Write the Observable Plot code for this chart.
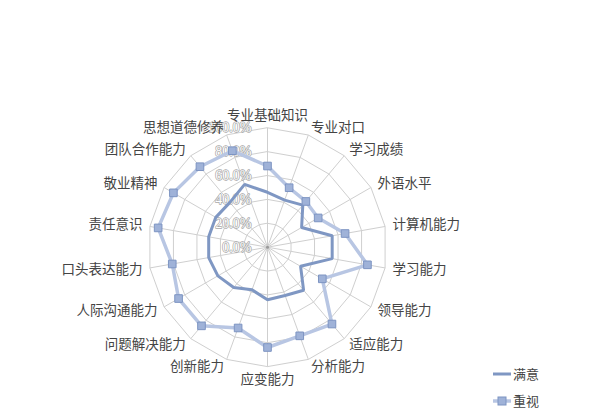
<!DOCTYPE html>
<html>
<head>
<meta charset="utf-8">
<script src="https://cdn.jsdelivr.net/npm/d3@7"></script>
<script src="https://cdn.jsdelivr.net/npm/@observablehq/plot@0.6"></script>
<style>
  html, body { margin: 0; padding: 0; background: #fff; }
  #wrap { position: relative; width: 600px; height: 413px; overflow: hidden; }
  .legend { position: absolute; left: 492px; font-family: "Noto Sans CJK SC", sans-serif; font-size: 13px; color: #444; }
  .legend .row { position: absolute; left: 0; width: 110px; height: 20px; }
  .legend svg { position: absolute; left: 0; top: 0; }
  .legend span { position: absolute; left: 21px; top: 0; line-height: 20px; white-space: nowrap; }
</style>
</head>
<body>
<div id="wrap"></div>
<script>
const categories = ["专业基础知识","专业对口","学习成绩","外语水平","计算机能力","学习能力","领导能力","适应能力","分析能力","应变能力","创新能力","问题解决能力","人际沟通能力","口头表达能力","责任意识","敬业精神","团队合作能力","思想道德修养"];
const manyi = [46,42,46,33,55,55,32,47,43,44,38,44,48,50,50,50,49,56];
const zhongshi = [68,53,50,49,66,85,53,84,79,84,72,86,86,81,93,91,88,86];
const ringTicks = [0,20,40,60,80,100];
const ringLabels = ["0.0%","20.0%","40.0%","60.0%","80.0%","100.0%"];
const seriesNames = ["满意","重视"];

const W = 600, H = 413, cx = 267, cy = 246.7, Rpx = 119.4;
const k = 100 / Rpx;
const n = categories.length;
const ang = i => (i * 2 * Math.PI) / n;
const px = (v, i) => v * Math.sin(ang(i));
const py = (v, i) => v * Math.cos(ang(i));

const rows = categories.map((c, i) => ({c, i, m: manyi[i], z: zhongshi[i]}));
const grid = ringTicks.filter(t => t > 0).flatMap(t => categories.map((c, i) => ({t, i})));
const labR = 127 * k;
const sideOf = i => { const s = Math.sin(ang(i)); return Math.abs(s) < 0.1 ? (Math.cos(ang(i)) > 0 ? "top" : "bottom") : (s > 0 ? "right" : "left"); };

const font = '"Noto Sans CJK SC", sans-serif';
const lab = (side, opts) => Plot.text(rows.filter(d => sideOf(d.i) === side), {
  x: d => px(labR, d.i), y: d => py(labR, d.i), text: "c",
  fill: "#444", fontSize: 13.5, fontFamily: font, ...opts
});

const chart = Plot.plot({
  width: W, height: H, margin: 0,
  x: {domain: [-cx * k, (W - cx) * k], range: [0, W], axis: null},
  y: {domain: [-(H - cy) * k, cy * k], range: [H, 0], axis: null},
  style: {background: "#fff", overflow: "visible"},
  marks: [
    Plot.line(grid, {x: d => px(d.t, d.i), y: d => py(d.t, d.i), z: "t", curve: "linear-closed", stroke: "#cfcfcf", strokeWidth: 1}),
    Plot.link(rows, {x1: 0, y1: 0, x2: d => px(100, d.i), y2: d => py(100, d.i), stroke: "#cfcfcf", strokeWidth: 1}),
    Plot.dot([0], {x: 0, y: 0, r: 1.5, fill: "#999"}),
    Plot.text(ringTicks, {x: -16 * k, y: d => d, text: (d, j) => ringLabels[j], textAnchor: "end",
      fill: "#fff", stroke: "#a8a8a8", strokeWidth: 1.4, fontSize: 14, fontFamily: '"Liberation Serif", serif'}),
    Plot.line(rows, {x: d => px(d.m, d.i), y: d => py(d.m, d.i), curve: "linear-closed", stroke: "#7f97c3", strokeWidth: 3, strokeLinejoin: "miter"}),
    Plot.line(rows, {x: d => px(d.z, d.i), y: d => py(d.z, d.i), curve: "linear-closed", stroke: "#b8c6e3", strokeWidth: 3.5}),
    Plot.dot(rows, {x: d => px(d.z, d.i), y: d => py(d.z, d.i), symbol: "square", r: 4.3, fill: "#9fb2d8", stroke: "#7d94c2", strokeWidth: 1}),
    lab("top", {textAnchor: "middle", lineAnchor: "bottom"}),
    lab("bottom", {textAnchor: "middle", lineAnchor: "top"}),
    lab("right", {textAnchor: "start", lineAnchor: "middle"}),
    lab("left", {textAnchor: "end", lineAnchor: "middle"})
  ]
});
const wrap = document.getElementById("wrap");
wrap.appendChild(chart);

const legend = document.createElement("div");
legend.className = "legend";
legend.style.top = "0px";
legend.innerHTML = `
  <div class="row" style="top:364px">
    <svg width="20" height="20"><line x1="1" y1="10" x2="19" y2="10" stroke="#7f97c3" stroke-width="3"/></svg>
    <span>${seriesNames[0]}</span>
  </div>
  <div class="row" style="top:391px">
    <svg width="20" height="20"><line x1="1" y1="10" x2="19" y2="10" stroke="#b8c6e3" stroke-width="3.5"/>
    <rect x="6" y="6" width="8" height="8" fill="#9fb2d8" stroke="#7d94c2"/></svg>
    <span>${seriesNames[1]}</span>
  </div>`;
wrap.appendChild(legend);
</script>
</body>
</html>
